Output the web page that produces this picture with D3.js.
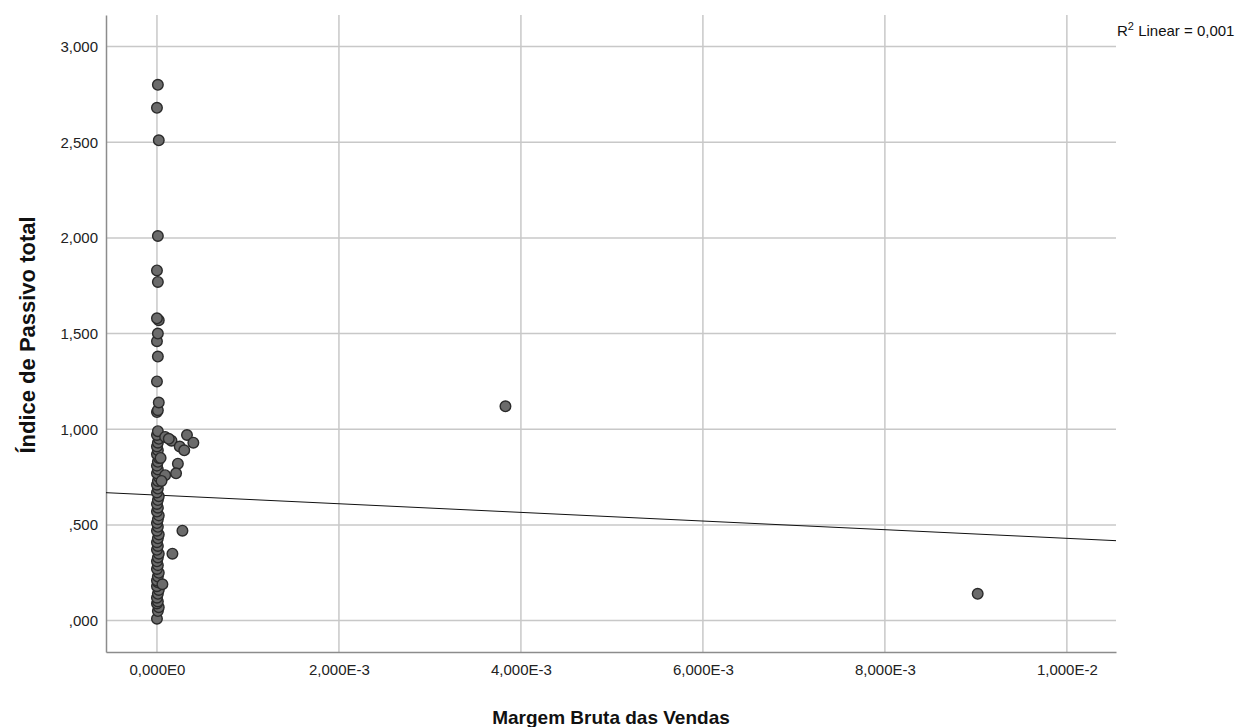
<!DOCTYPE html>
<html>
<head>
<meta charset="utf-8">
<script src="https://cdn.jsdelivr.net/npm/d3@7"></script>
<style>
  body { margin: 0; background: #fff; }
  text { font-family: "Liberation Sans", Arial, sans-serif; }
</style>
</head>
<body>
<div id="chart"></div>
<script>
// values
let colX = [0, 0.00001, 0.00002, 0, 0.00001];
let colY = [0.01, 0.05, 0.07, 0.09, 0.10, 0.12, 0.14, 0.16, 0.18, 0.20, 0.21, 0.23, 0.25, 0.27,
  0.29, 0.31, 0.33, 0.35, 0.37, 0.39, 0.41, 0.43, 0.45, 0.47, 0.49, 0.51, 0.53, 0.55, 0.57,
  0.59, 0.61, 0.63, 0.65, 0.67, 0.69, 0.71, 0.73, 0.75, 0.77, 0.79, 0.81, 0.83, 0.85, 0.87,
  0.89, 0.91, 0.93, 0.95, 0.97, 0.99, 1.09, 1.10, 1.14, 1.25, 1.38, 1.46, 1.50, 1.57, 1.58,
  1.77, 1.83, 2.01, 2.51, 2.68, 2.80];
let otherX = [0.00009, 0.00016, 0.00025, 0.00033, 0.00040, 0.00030, 0.00023, 0.00021, 0.00013,
  0.00009, 0.00006, 0.00028, 0.00017, 0.00005, 0.00004, 0.00383, 0.00902];
let otherY = [0.96, 0.94, 0.91, 0.97, 0.93, 0.89, 0.82, 0.77, 0.95,
  0.76, 0.19, 0.47, 0.35, 0.73, 0.85, 1.12, 0.14];

let xTicks = [0, 0.002, 0.004, 0.006, 0.008, 0.01];
let xTickLabels = ["0,000E0", "2,000E-3", "4,000E-3", "6,000E-3", "8,000E-3", "1,000E-2"];
let yTicks = [0, 0.5, 1, 1.5, 2, 2.5, 3];
let yTickLabels = [",000", ",500", "1,000", "1,500", "2,000", "2,500", "3,000"];

let fitIntercept = 0.656;
let fitSlope = -22.6;
let rLabel = "0,001";

let points = [];
colY.forEach(function(y, i) { points.push({x: colX[i % colX.length], y: y}); });
otherY.forEach(function(y, i) { points.push({x: otherX[i], y: y}); });

let svg = d3.select("#chart").append("svg")
  .attr("width", 1245)
  .attr("height", 727);

let plot = {left: 106, right: 1116, top: 15, bottom: 652};

let x = d3.scaleLinear().domain([-0.00056, 0.01054]).range([plot.left, plot.right]);
let y = d3.scaleLinear().domain([-0.164, 3.165]).range([plot.bottom, plot.top]);

// gridlines
svg.append("g").selectAll("line")
  .data(yTicks).enter().append("line")
  .attr("x1", plot.left).attr("x2", plot.right)
  .attr("y1", d => y(d)).attr("y2", d => y(d))
  .attr("stroke", "#c8c8c8").attr("stroke-width", 1.5);

svg.append("g").selectAll("line")
  .data(xTicks).enter().append("line")
  .attr("x1", d => x(d)).attr("x2", d => x(d))
  .attr("y1", plot.top).attr("y2", plot.bottom)
  .attr("stroke", "#c8c8c8").attr("stroke-width", 1.5);

// axes
let xAxis = d3.axisBottom(x).tickValues(xTicks)
  .tickFormat((d, i) => xTickLabels[i]).tickSize(0).tickPadding(12);
let yAxis = d3.axisLeft(y).tickValues(yTicks)
  .tickFormat((d, i) => yTickLabels[i]).tickSize(0).tickPadding(8);

let gx = svg.append("g").attr("transform", "translate(0," + plot.bottom + ")").call(xAxis);
let gy = svg.append("g").attr("transform", "translate(" + plot.left + ",0)").call(yAxis);
[gx, gy].forEach(function(g) {
  g.select(".domain").attr("stroke", "#8c8c8c").attr("stroke-width", 1.5);
  g.selectAll("text").attr("font-size", 15).attr("fill", "#222")
    .style("font-family", "'Liberation Sans', Arial, sans-serif");
});

// fit line
svg.append("line")
  .attr("x1", x(-0.00056)).attr("y1", y(fitIntercept + fitSlope * -0.00056))
  .attr("x2", x(0.01054)).attr("y2", y(fitIntercept + fitSlope * 0.01054))
  .attr("stroke", "#111").attr("stroke-width", 1);

// points
svg.append("g").selectAll("circle")
  .data(points).enter().append("circle")
  .attr("cx", d => x(d.x))
  .attr("cy", d => y(d.y))
  .attr("r", 5.3)
  .attr("fill", "#6b6b6b")
  .attr("stroke", "#2a2a2a")
  .attr("stroke-width", 1.4);

// R2 label
let rt = svg.append("text")
  .attr("x", 1117).attr("y", 36)
  .attr("font-size", 15).attr("fill", "#111");
rt.append("tspan").text("R");
rt.append("tspan").attr("dy", -6).attr("font-size", 11).text("2");
rt.append("tspan").attr("dy", 6).text(" Linear = " + rLabel);

// axis titles
svg.append("text")
  .attr("x", (plot.left + plot.right) / 2).attr("y", 724)
  .attr("text-anchor", "middle")
  .attr("font-size", 19).attr("font-weight", "bold").attr("fill", "#111")
  .text("Margem Bruta das Vendas");

svg.append("text")
  .attr("transform", "translate(35," + 335 + ") rotate(-90)")
  .attr("text-anchor", "middle")
  .attr("font-size", 22).attr("font-weight", "bold").attr("fill", "#111")
  .text("Índice de Passivo total");
</script>
</body>
</html>
